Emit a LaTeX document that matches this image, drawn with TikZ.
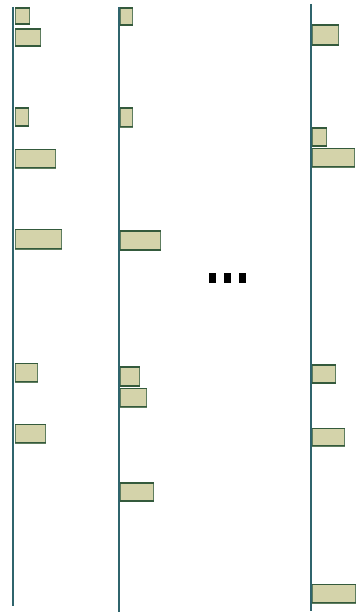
\documentclass[tikz,border=0pt]{standalone}
\definecolor{barfill}{RGB}{212,211,170}
\definecolor{baredge}{RGB}{52,90,60}
\definecolor{barside}{RGB}{95,125,95}
\begin{document}
\begin{tikzpicture}[x=1pt,y=-1pt,
  timeline/.style={draw={rgb,255:red,47;green,100;blue,108}, line width=1.7pt},
  baredgeline/.style={draw=baredge, line width=1.8pt},
  bar/.style={draw=barside, line width=0.8pt, fill=barfill,
    inner sep=0pt, anchor=north west,
    append after command={
      ([yshift=-0.9pt]\tikzlastnode.north west) edge[baredgeline] ([yshift=-0.9pt]\tikzlastnode.north east)
      ([yshift=0.9pt]\tikzlastnode.south west) edge[baredgeline] ([yshift=0.9pt]\tikzlastnode.south east)}},
  dotbox/.style={fill=black, inner sep=0pt, minimum width=7pt, minimum height=10pt}]
\useasboundingbox (0,0) rectangle (356,615);
% timelines
\coordinate (t1) at (13,7);   \coordinate (b1) at (13,606);
\coordinate (t2) at (119,7);  \coordinate (b2) at (119,612);
\coordinate (t3) at (311,4);  \coordinate (b3) at (311,611);
\draw[timeline] (t1) -- (b1);
\draw[timeline] (t2) -- (b2);
\draw[timeline] (t3) -- (b3);
% column 1
\node[bar, minimum width=14pt, minimum height=17pt] (a1) at (15,7.5) {};
\node[bar, minimum width=25pt, minimum height=18pt] (a2) at (15,28.5) {};
\node[bar, minimum width=13pt, minimum height=19pt] (a3) at (15,107) {};
\node[bar, minimum width=40pt, minimum height=19pt] (a4) at (15,148.5) {};
\node[bar, minimum width=46pt, minimum height=20pt] (a5) at (15,228.5) {};
\node[bar, minimum width=22pt, minimum height=19pt] (a6) at (15,362.5) {};
\node[bar, minimum width=30pt, minimum height=19pt] (a7) at (15,423.5) {};
% column 2
\node[bar, minimum width=12pt, minimum height=18pt] (c1) at (120,7.5) {};
\node[bar, minimum width=12pt, minimum height=19pt] (c2) at (120,107.5) {};
\node[bar, minimum width=40pt, minimum height=20pt] (c3) at (120,230) {};
\node[bar, minimum width=19pt, minimum height=20pt] (c4) at (120,366) {};
\node[bar, minimum width=26pt, minimum height=19pt] (c5) at (120,387.5) {};
\node[bar, minimum width=33pt, minimum height=19pt] (c6) at (120,482) {};
% column 3
\node[bar, minimum width=26pt, minimum height=21pt] (e1) at (312,24.5) {};
\node[bar, minimum width=14pt, minimum height=19pt] (e2) at (312,127) {};
\node[bar, minimum width=42pt, minimum height=19pt] (e3) at (312,147.5) {};
\node[bar, minimum width=23pt, minimum height=19pt] (e4) at (312,364) {};
\node[bar, minimum width=32pt, minimum height=18pt] (e5) at (312,427.5) {};
\node[bar, minimum width=43pt, minimum height=19pt] (e6) at (312,583.5) {};
% ellipsis
\node[dotbox] (d1) at (212,277.5) {};
\node[dotbox] (d2) at (227,277.5) {};
\node[dotbox] (d3) at (242,277.5) {};
\end{tikzpicture}
\end{document}
